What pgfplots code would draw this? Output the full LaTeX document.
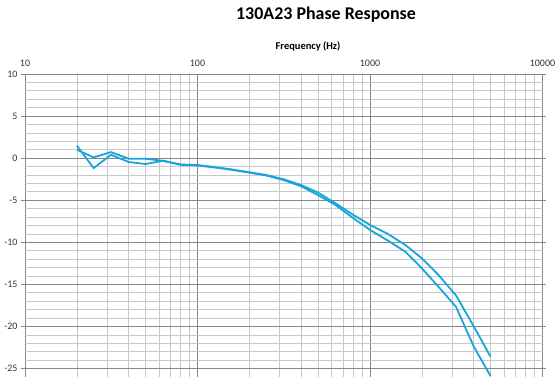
\documentclass[border=0pt]{standalone}
\usepackage{pgfplots}
\pgfplotsset{compat=1.18}
\usepackage{fontspec}
\setmainfont{Carlito}
\definecolor{phase}{RGB}{24,165,220}
\definecolor{gmaj}{RGB}{135,135,135}
\definecolor{gmin}{RGB}{200,200,200}
\begin{document}
\begin{tikzpicture}
\begin{axis}[
  at={(0,0)}, anchor=south west,
  scale only axis, width=517.5bp, height=303bp,
  xmode=log, xmin=10, xmax=10000, ymin=-26, ymax=10,
  axis line style={draw=none},
  xtick={10,100,1000,10000}, xticklabels={10,100,1000,10000},
  minor xtick={20,30,40,50,60,70,80,90,200,300,400,500,600,700,800,900,2000,3000,4000,5000,6000,7000,8000,9000},
  ytick={-25,-20,...,10},
  minor ytick={-26,-24,-23,-22,-21,-19,-18,-17,-16,-14,-13,-12,-11,-9,-8,-7,-6,-4,-3,-2,-1,1,2,3,4,6,7,8,9},
  xticklabel pos=upper,
  grid=both,
  major grid style={gmaj, line width=0.8bp},
  minor grid style={gmin, line width=0.8bp},
  x tick style={draw=none},
  minor tick style={draw=none},
  y tick style={gmaj, line width=0.8bp},
  tick align=outside, major tick length=4bp,
  /pgf/number format/assume math mode=true,
  tick label style={font=\fontsize{10}{12}\selectfont, text=black!80},
  clip=true,
]
\addplot[phase, line width=1.8bp] coordinates {
(20,1.48) (25,-1.18) (31.5,0.4) (40,-0.46) (50,-0.7) (63,-0.31) (80,-0.79) (100,-0.87)
(125,-1.1) (160,-1.4) (200,-1.72) (250,-2.05) (315,-2.6) (400,-3.35) (500,-4.4)
(630,-5.55) (800,-7.13) (1000,-8.52) (1250,-9.71) (1600,-11.1) (2000,-13.1)
(2500,-15.3) (3150,-17.65) (4000,-22.4) (5000,-25.9)};
\addplot[phase, line width=1.8bp] coordinates {
(20,1.0) (25,0.09) (31.5,0.72) (40,-0.07) (50,-0.07) (63,-0.31) (80,-0.75) (100,-0.82)
(125,-1.05) (160,-1.36) (200,-1.68) (250,-2.0) (315,-2.5) (400,-3.2) (500,-4.1)
(630,-5.35) (800,-6.74) (1000,-7.93) (1250,-8.92) (1600,-10.3) (2000,-11.9)
(2500,-13.9) (3150,-16.3) (4000,-20.0) (5000,-23.6)};
\end{axis}
\node[font=\fontsize{18}{21}\selectfont\bfseries] at (301bp,362bp) {130A23 Phase Response};
\node[font=\fontsize{10.5}{12}\selectfont\bfseries] at (283bp,331bp) {Frequency (Hz)};
\pgfresetboundingbox
\path[use as bounding box] (-25bp,0bp) rectangle (533bp,377bp);
\end{tikzpicture}
\end{document}
